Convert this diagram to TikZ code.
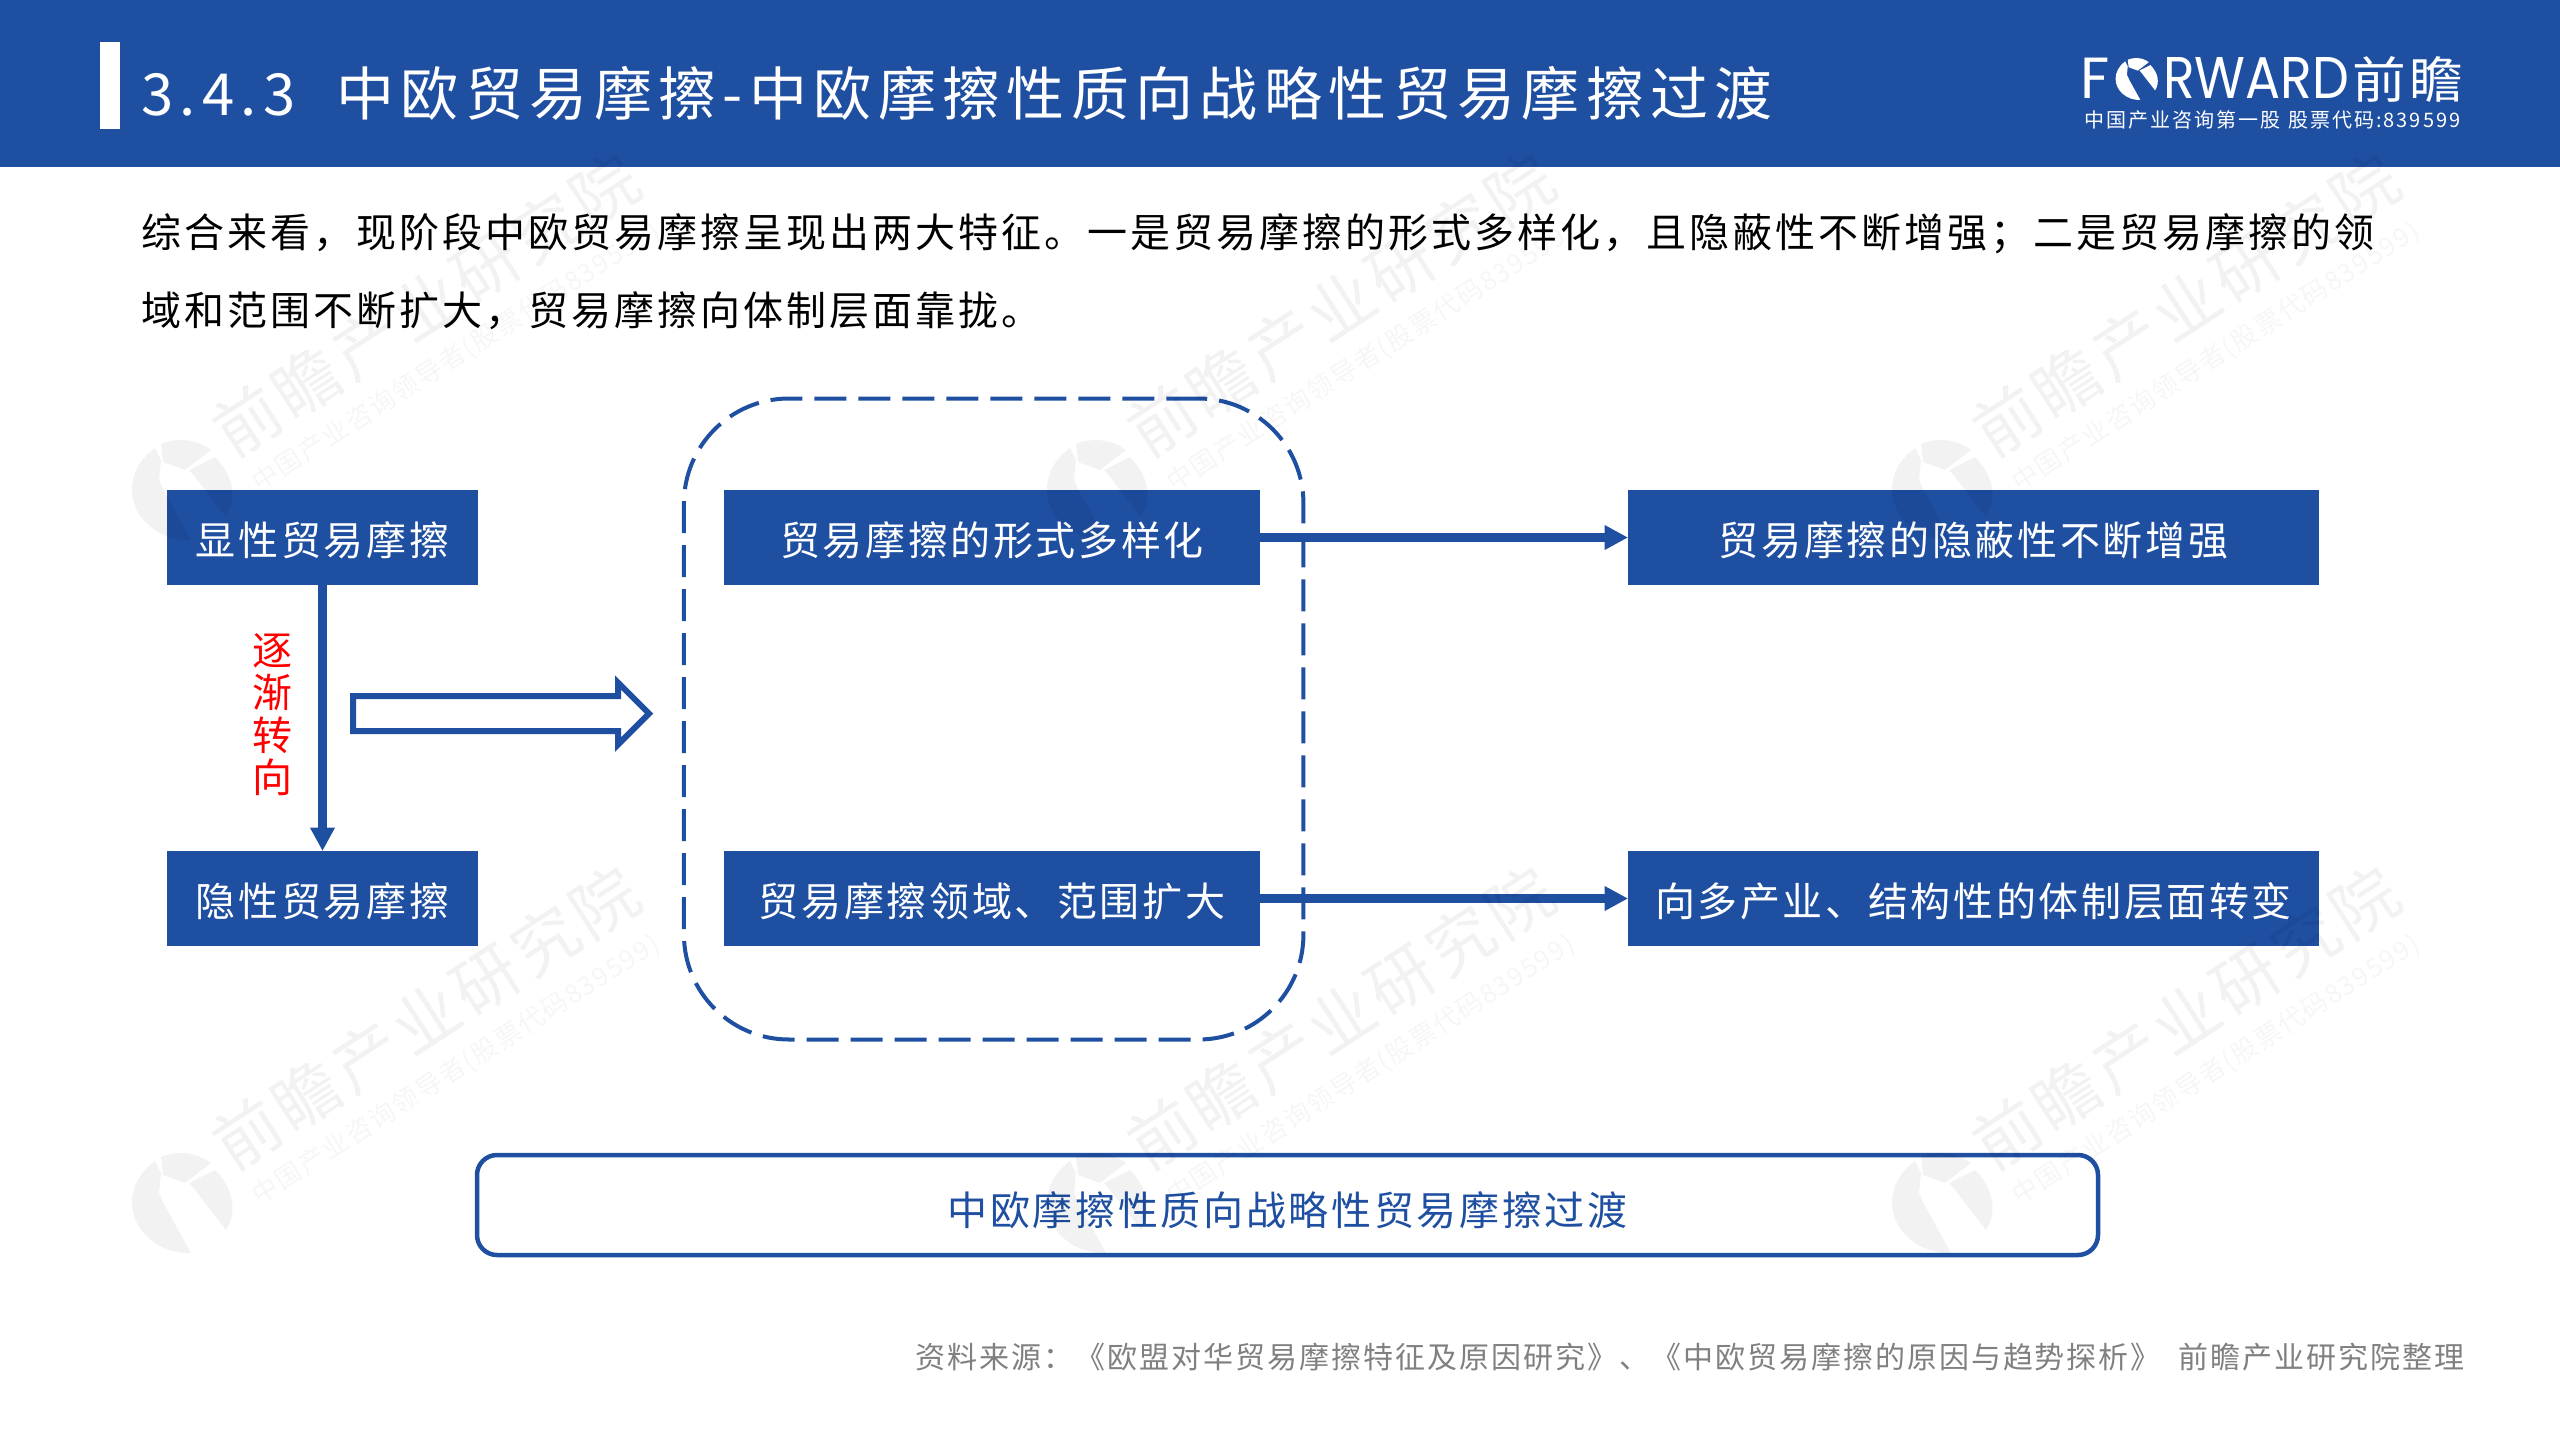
\documentclass[tikz,border=0pt]{standalone}
\usepackage{fontspec}
\usepackage{tikz}
\usetikzlibrary{arrows.meta,positioning,shapes.arrows}

\newfontfamily\titlefont[LetterSpace=11]{Noto Sans CJK SC}
\newfontfamily\bodyfont[LetterSpace=7.5]{Noto Sans CJK SC}
\newfontfamily\boxfont[LetterSpace=6.6]{Noto Sans CJK SC}
\newfontfamily\sloganfont[LetterSpace=10]{Noto Sans CJK SC}
\newfontfamily\notefont[LetterSpace=6.6]{Noto Sans CJK SC}
\newfontfamily\wordfont{Poppins}
\definecolor{fwdblue}{HTML}{1F4FA1}

\tikzset{
    solidbox/.style={rectangle, fill=fwdblue, text=white, minimum height=95pt, inner sep=0pt, outer sep=0pt, text height=42pt, text depth=6pt, font=\boxfont\fontsize{40}{48}\selectfont},
    flow/.style={draw=fwdblue, line width=8.5pt, -{Triangle[length=23.5pt,width=23.5pt]}},
    logomark/.pic={
        \fill (-28,-42) .. controls (-44,-30) and (-51,-16) .. (-51,0) .. controls (-51,27) and (-25,51) .. (8,50) -- (-18,3) -- (-24,-10) -- (-22,-30) -- cycle;
        \fill (-22,-46) .. controls (-8,-52) and (12,-52) .. (28,-40) -- (2,-20) -- (-20,-28) -- cycle;
        \fill (32,-33) .. controls (50,-15) and (55,8) .. (43,27) -- (12,-13) -- (6,-20) -- cycle;
    },
    markbig/.style={rotate=33, opacity=.05, text=black, inner sep=0pt, font=\bodyfont\fontsize{66}{70}\selectfont},
    marksmall/.style={rotate=32.5, opacity=.035, text=black, inner sep=0pt, font=\boxfont\fontsize{26}{30}\selectfont},
}

\begin{document}
\begin{tikzpicture}[x=1pt, y=-1pt]
    \useasboundingbox (0,0) rectangle (2560,1440);

    \fill[fwdblue] (0,0) rectangle (2560,167);
    \fill[white] (100,42) rectangle (120,129);
    \node[anchor=west, inner sep=0pt, text=white, text height=52pt, text depth=8pt, font=\titlefont\fontsize{58}{60}\selectfont] (title) at (141,93) {3.4.3\hspace{41pt}中欧贸易摩擦-中欧摩擦性质向战略性贸易摩擦过渡};

    \node[anchor=west, inner sep=0pt, text=white, font=\wordfont\fontsize{58}{60}\selectfont] (wordF) at (2080,78) {F};
    \pic[white, scale=.42] at (2137,79) {logomark};
    \node[anchor=west, inner sep=0pt, text=white, font=\wordfont] (wordR) at (2163,78.5) {\resizebox{186pt}{41pt}{RWARD}};
    \node[anchor=west, inner sep=0pt, text=white, font=\boxfont] (wordCN) at (2352,79) {\resizebox{111pt}{42pt}{前瞻}};
    \node[anchor=west, inner sep=0pt, text=white, font=\sloganfont\fontsize{20}{24}\selectfont] (slogan) at (2084,120) {中国产业咨询第一股\hspace{8pt}股票代码:839599};

    \node[anchor=west, inner sep=0pt, align=left, font=\bodyfont\fontsize{40}{78}\selectfont] (intro) at (141,271.5) {综合来看，现阶段中欧贸易摩擦呈现出两大特征。一是贸易摩擦的形式多样化，且隐蔽性不断增强；二是贸易摩擦的领\\域和范围不断扩大，贸易摩擦向体制层面靠拢。};

    \node[solidbox, minimum width=310.5pt] (shown) at (322.5,537.5) {显性贸易摩擦};
    \node[solidbox, minimum width=310.5pt] (hidden) [below=266pt of shown] {隐性贸易摩擦};
    \node[text=red, inner sep=0pt, align=center, font=\boxfont\fontsize{40}{42.3}\selectfont] (shift) at (272,714.5) {逐\\渐\\转\\向};
    \node[single arrow, draw=fwdblue, line width=6pt, fill=white, inner sep=0pt, inner ysep=14.5pt, outer sep=0pt, minimum height=296pt, minimum width=57pt, single arrow head extend=13.5pt, single arrow tip angle=90, anchor=tail] (hollow) at (353,713.5) {};

    \node[rectangle, draw=fwdblue, line width=4pt, rounded corners=105pt, dash pattern=on 32pt off 12pt, minimum width=619.5pt, minimum height=641pt, outer sep=0pt] (frame) at (993.7,719) {};
    \node[solidbox, minimum width=536pt] (form) at (992,537.5) {贸易摩擦的形式多样化};
    \node[solidbox, minimum width=536pt] (scope) [below=266pt of form] {贸易摩擦领域、范围扩大};
    \node[solidbox, minimum width=691pt] (covert) [right=368pt of form] {贸易摩擦的隐蔽性不断增强};
    \node[solidbox, minimum width=691pt] (system) [right=368pt of scope] {向多产业、结构性的体制层面转变};

    \draw[flow] (shown) -- (hidden);
    \draw[flow] (form) -- (covert);
    \draw[flow] (scope) -- (system);

    \node[rectangle, draw=fwdblue, line width=4.5pt, rounded corners=20pt, minimum width=1621pt, minimum height=100pt, outer sep=0pt, text=fwdblue, text height=46pt, text depth=6pt, font=\boxfont\fontsize{40}{48}\selectfont] (summary) at (1287.5,1205) {中欧摩擦性质向战略性贸易摩擦过渡};

    \node[anchor=east, inner sep=0pt, text=black!50, font=\notefont\fontsize{30}{36}\selectfont] (source) at (2465,1357) {资料来源：《欧盟对华贸易摩擦特征及原因研究》、《中欧贸易摩擦的原因与趋势探析》\hspace{18pt}前瞻产业研究院整理};

    \foreach \wx/\wy in {183/490, 1098/490, 1943/490, 183/1203, 1098/1203, 1943/1203} {
        \pic[black, opacity=.05] at (\wx,\wy) {logomark};
        \node[markbig] (wmain\wx\wy) at (\wx+243,\wy-185) {前瞻产业研究院};
        \node[marksmall] (wsub\wx\wy) at (\wx+273,\wy-133) {中国产业咨询领导者(股票代码839599)};
    }
\end{tikzpicture}
\end{document}
